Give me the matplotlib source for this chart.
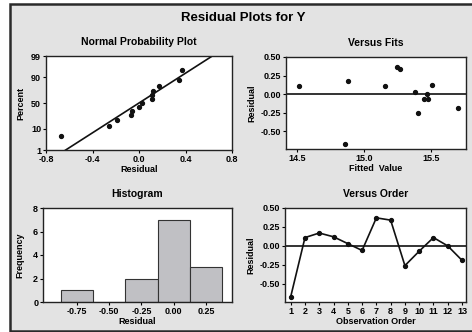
import numpy as np
import matplotlib
matplotlib.use("Agg")
import matplotlib.pyplot as plt
from matplotlib.patches import Rectangle
from statistics import NormalDist

plt.rcParams['font.family'] = ['Liberation Sans', 'DejaVu Sans']
plt.rcParams['font.weight'] = 'bold'

# data
residuals = [-0.67, 0.11, 0.17, 0.12, 0.03, -0.06, 0.37, 0.34, -0.26, -0.07, 0.11, 0.00, -0.19]
fitted = [14.86, 14.52, 14.88, 15.51, 15.38, 15.45, 15.25, 15.27, 15.40, 15.48, 15.16, 15.47, 15.70]
order = list(range(1, 14))
pct_ticks = [1, 10, 50, 90, 99]
hist_edges = [-0.875, -0.625, -0.375, -0.125, 0.125, 0.375]

W, H = 472, 332
fig = plt.figure(figsize=(W / 100, H / 100), dpi=100)
fig.patch.set_facecolor('white')
fig.patches.append(Rectangle((10 / W, 1 - 331 / H), 1.0, (327) / H, transform=fig.transFigure,
                             facecolor='#e3e3e3', edgecolor='#2a2a2a', lw=1.8, zorder=-5))
fig.text(243 / W, 1 - 18 / H, 'Residual Plots for Y', ha='center', va='center',
         fontsize=9.5, fontweight='bold')

tfs = 6.5
lfs = 6.5


def ax_at(l, t, r, b):
    ax = fig.add_axes([l / W, 1 - b / H, (r - l) / W, (b - t) / H])
    ax.set_facecolor('white')
    for s in ax.spines.values():
        s.set_linewidth(1.0)
        s.set_color('#222222')
    ax.tick_params(direction='out', length=2, width=0.8, labelsize=tfs, pad=1.5)
    return ax


nd = NormalDist()
res = np.array(residuals)
n = len(res)

# normal probability plot
ax1 = ax_at(46, 56, 232, 150)
srt = np.sort(res)
z = [nd.inv_cdf((i - 0.3) / (n + 0.4)) for i in range(1, n + 1)]
ax1.plot(srt, z, 'o', color='#111111', ms=2.8)
mu, sd = res.mean(), res.std(ddof=1)
zl = np.array([nd.inv_cdf(0.01), nd.inv_cdf(0.99)])
zz = np.array([zl[0] - 1, zl[1] + 1])
ax1.plot(mu + sd * zz, zz, color='#111111', lw=1.2)
ax1.set_ylim(zl)
ax1.set_xlim(-0.8, 0.8)
ax1.set_yticks([nd.inv_cdf(p / 100) for p in pct_ticks])
ax1.set_yticklabels([str(p) for p in pct_ticks])
ax1.set_xticks([-0.8, -0.4, 0.0, 0.4, 0.8])
ax1.set_xticklabels(['-0.8', '-0.4', '0.0', '0.4', '0.8'])
ax1.set_title('Normal Probability Plot', fontsize=7.5, fontweight='bold', pad=8)
ax1.set_xlabel('Residual', fontsize=lfs, fontweight='bold', labelpad=1)
ax1.set_ylabel('Percent', fontsize=lfs, fontweight='bold', labelpad=4)

# versus fits
ax2 = ax_at(286, 57, 466, 149)
ax2.plot(fitted, residuals, 'o', color='#111111', ms=2.8)
ax2.axhline(0, color='#111111', lw=1.2)
ax2.set_xlim(14.42, 15.76)
ax2.set_ylim(-0.74, 0.5)
ax2.set_yticks([0.5, 0.25, 0, -0.25, -0.5])
ax2.set_yticklabels(['0.50', '0.25', '0.00', '-0.25', '-0.50'])
ax2.set_xticks([14.5, 15.0, 15.5])
ax2.set_xticklabels(['14.5', '15.0', '15.5'])
ax2.set_title('Versus Fits', fontsize=7.5, fontweight='bold', pad=8)
ax2.set_xlabel('Fitted  Value', fontsize=lfs, fontweight='bold', labelpad=1)
ax2.set_ylabel('Residual', fontsize=lfs, fontweight='bold', labelpad=3)

# histogram
ax3 = ax_at(43, 208, 232, 302)
ax3.hist(residuals, bins=hist_edges, color='#c0c0c4', edgecolor='#333333', lw=0.8)
ax3.set_xlim(-1.015, 0.453)
ax3.set_ylim(0, 8)
ax3.set_yticks([0, 2, 4, 6, 8])
ax3.set_xticks([-0.75, -0.5, -0.25, 0, 0.25])
ax3.set_xticklabels(['-0.75', '-0.50', '-0.25', '0.00', '0.25'])
ax3.set_title('Histogram', fontsize=7.5, fontweight='bold', pad=8)
ax3.set_xlabel('Residual', fontsize=lfs, fontweight='bold', labelpad=1)
ax3.set_ylabel('Frequency', fontsize=lfs, fontweight='bold', labelpad=6)

# versus order
ax4 = ax_at(285, 208, 466, 302)
ax4.plot(order, residuals, '-o', color='#111111', ms=2.8, lw=1.2)
ax4.axhline(0, color='#111111', lw=1.2)
ax4.set_xlim(0.6, 13.28)
ax4.set_ylim(-0.74, 0.5)
ax4.set_yticks([0.5, 0.25, 0, -0.25, -0.5])
ax4.set_yticklabels(['0.50', '0.25', '0.00', '-0.25', '-0.50'])
ax4.set_xticks(order)
ax4.set_title('Versus Order', fontsize=7.5, fontweight='bold', pad=8)
ax4.set_xlabel('Observation Order', fontsize=lfs, fontweight='bold', labelpad=1)
ax4.set_ylabel('Residual', fontsize=lfs, fontweight='bold', labelpad=3)

fig.savefig('out.png', dpi=100)
